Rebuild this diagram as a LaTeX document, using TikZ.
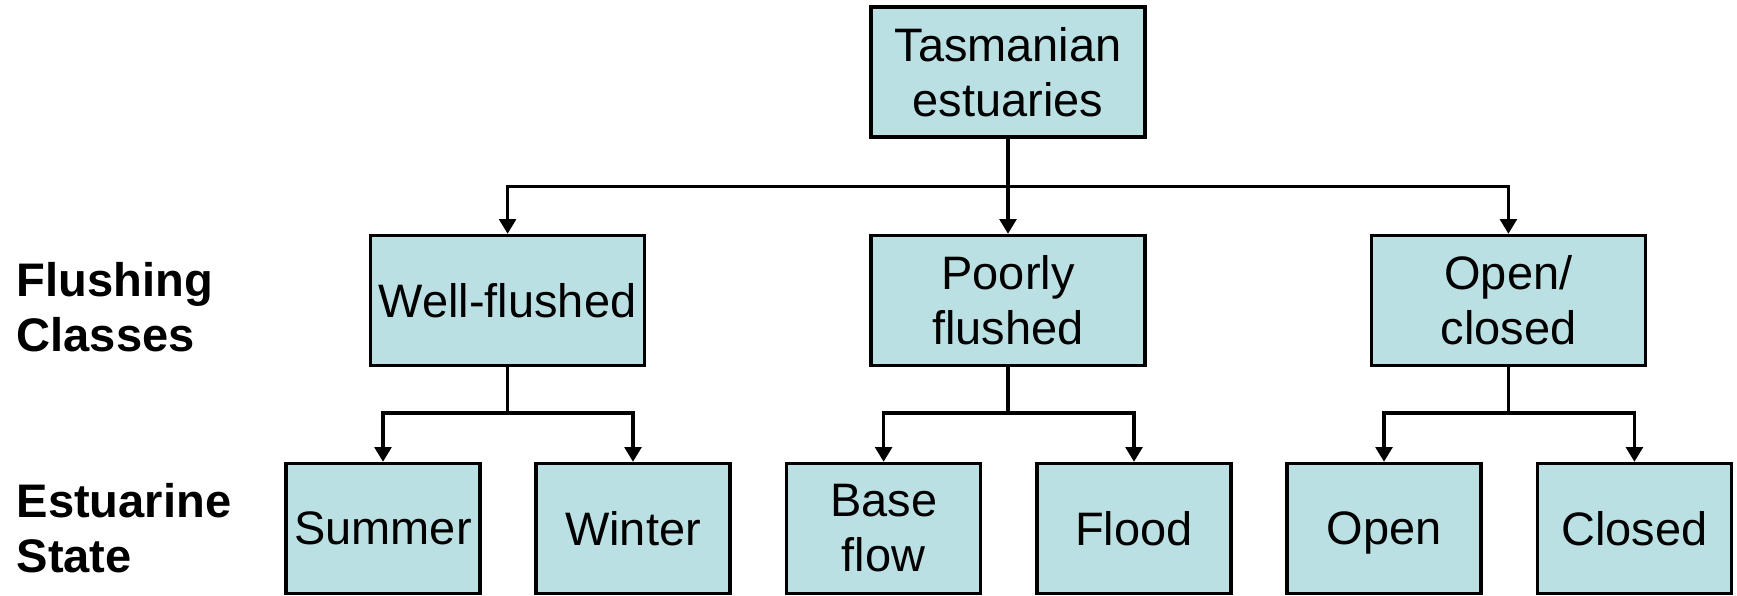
\documentclass[tikz,border=0pt]{standalone}
\usepackage{fontspec}
\setmainfont{Liberation Sans}
\usetikzlibrary{arrows.meta, calc}
\definecolor{cbox}{HTML}{BBE0E3}
\tikzset{
  every picture/.style={line width=2.3pt},
  box/.style={draw=black, fill=cbox, align=center, inner sep=2pt, minimum height=3.25cm, font=\fontsize{33.4}{39}\selectfont},
  bigbox/.style={box, minimum width=6.85cm},
  smallbox/.style={box, minimum width=4.85cm},
  arrow/.style={-{Triangle[length=10.5pt, width=12pt]}, draw=black, line width=2.2pt},
  rowlabel/.style={anchor=west, align=left, inner sep=0pt, font=\fontsize{33.5}{39}\selectfont\bfseries},
}

\begin{document}
\begin{tikzpicture}
  \useasboundingbox (0,0) rectangle (43.425,-14.9);
  % root
  \node[bigbox] (tas) at (25.2,-1.8) {Tasmanian\\estuaries};
  % flushing classes
  \node[bigbox] (well) at (12.69,-7.51) {Well-flushed};
  \node[bigbox] (poor) at (25.2,-7.51) {Poorly\\flushed};
  \node[bigbox] (openc) at (37.71,-7.51) {Open/\\closed};
  % estuarine states
  \node[smallbox] (summer) at (9.575,-13.21) {Summer};
  \node[smallbox] (winter) at (15.825,-13.21) {Winter};
  \node[smallbox] (base) at (22.09,-13.21) {Base\\flow};
  \node[smallbox] (flood) at (28.35,-13.21) {Flood};
  \node[smallbox, text depth=0pt] (open) at (34.6,-13.21) {Open};
  \node[smallbox] (closed) at (40.86,-13.21) {Closed};
  % row labels
  \node[rowlabel] (flcl) at (0.375,-7.68) {Flushing\\Classes};
  \node[rowlabel] (esst) at (0.375,-13.21) {Estuarine\\State};
  % connectors
  \foreach \c in {well,poor,openc}
    \draw[arrow] (tas.south) -- ($(tas.south)+(0,-1.19)$) -| (\c.north);
  \foreach \p/\a/\b in {well/summer/winter, poor/base/flood, openc/open/closed} {
    \draw[arrow] (\p.south) -- ($(\p.south)+(0,-1.15)$) -| (\a.north);
    \draw[arrow] (\p.south) -- ($(\p.south)+(0,-1.15)$) -| (\b.north);
  }
\end{tikzpicture}
\end{document}
